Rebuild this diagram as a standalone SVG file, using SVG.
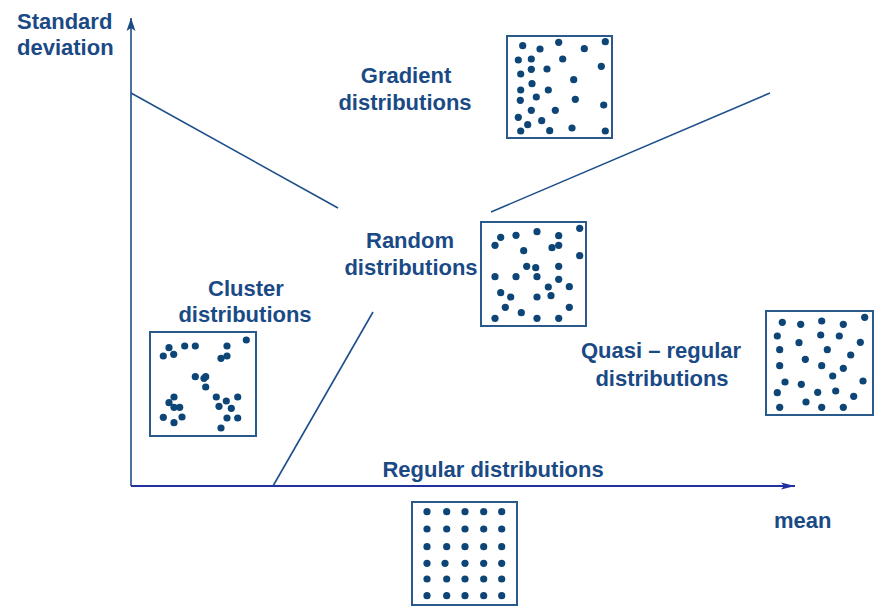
<svg xmlns="http://www.w3.org/2000/svg" width="885" height="614" viewBox="0 0 885 614">
  <defs>
    <marker id="arrowUp" markerWidth="14" markerHeight="10" refX="13" refY="5" orient="auto" markerUnits="userSpaceOnUse">
      <path d="M0,0.5 L13,5 L0,9.5 L3,5 Z" fill="#1a4a85"/>
    </marker>
    <marker id="arrowRight" markerWidth="16" markerHeight="10" refX="14" refY="5" orient="auto" markerUnits="userSpaceOnUse">
      <path d="M0,1.5 L14,5 L0,8.5 L3,5 Z" fill="#2331a0"/>
    </marker>
    <style>
      .label { font-family: "Liberation Sans", Arial, sans-serif; font-weight: bold; font-size: 22px; fill: #1a4a85; }
      .box { fill: #ffffff; stroke: #2a5a8c; stroke-width: 2; }
      .dot circle { fill: #0d4577; r: 3.6px; }
      .edge { stroke: #1d4f8a; stroke-width: 1.6; fill: none; }
    </style>
  </defs>
  <rect width="885" height="614" fill="#ffffff"/>

  <!-- axes and separating lines -->
  <g id="connectors">
    <line class="edge" x1="131" y1="486" x2="131" y2="18" stroke-width="2" marker-end="url(#arrowUp)"/>
    <line x1="131" y1="486" x2="795" y2="486" stroke="#2331a0" stroke-width="2" marker-end="url(#arrowRight)"/>
    <line class="edge" x1="131" y1="93" x2="338" y2="208"/>
    <line class="edge" x1="491" y1="212" x2="770" y2="93"/>
    <line class="edge" x1="273" y1="486" x2="373" y2="312"/>
  </g>

  <!-- axis labels -->
  <g id="axis-y-label">
    <text class="label" x="17" y="29">Standard</text>
    <text class="label" x="17" y="55">deviation</text>
  </g>
  <g id="axis-x-label">
    <text class="label" x="774" y="528">mean</text>
  </g>

  <!-- Gradient distributions -->
  <g id="gradient">
    <text class="label" x="406" y="83" text-anchor="middle">Gradient</text>
    <text class="label" x="405" y="110" text-anchor="middle">distributions</text>
    <rect class="box" x="507" y="36" width="105" height="102"/>
    <g class="dot">
      <circle cx="522.7" cy="45.7" r="3.6"/><circle cx="540" cy="49" r="3.6"/><circle cx="558.7" cy="42.3" r="3.6"/>
      <circle cx="584.3" cy="48.7" r="3.6"/><circle cx="605.3" cy="41.7" r="3.6"/><circle cx="518.3" cy="60" r="3.6"/>
      <circle cx="531.3" cy="59" r="3.6"/><circle cx="562.7" cy="59" r="3.6"/><circle cx="601.3" cy="66.3" r="3.6"/>
      <circle cx="520.7" cy="74" r="3.6"/><circle cx="531.3" cy="69.3" r="3.6"/><circle cx="547" cy="69" r="3.6"/>
      <circle cx="573.7" cy="79.7" r="3.6"/><circle cx="532" cy="83.7" r="3.6"/><circle cx="520.7" cy="90" r="3.6"/>
      <circle cx="548.3" cy="90" r="3.6"/><circle cx="520.3" cy="100.3" r="3.6"/><circle cx="536.3" cy="97" r="3.6"/>
      <circle cx="575.3" cy="99.3" r="3.6"/><circle cx="603.7" cy="105" r="3.6"/><circle cx="531.3" cy="110.3" r="3.6"/>
      <circle cx="555.3" cy="110.3" r="3.6"/><circle cx="518.3" cy="117.3" r="3.6"/><circle cx="541.7" cy="120.7" r="3.6"/>
      <circle cx="527.7" cy="124.7" r="3.6"/><circle cx="520.7" cy="131" r="3.6"/><circle cx="549.7" cy="130.7" r="3.6"/>
      <circle cx="572" cy="128" r="3.6"/><circle cx="605.3" cy="131" r="3.6"/>
    </g>
  </g>

  <!-- Random distributions -->
  <g id="random">
    <text class="label" x="410" y="248" text-anchor="middle">Random</text>
    <text class="label" x="411" y="275" text-anchor="middle">distributions</text>
    <rect class="box" x="481" y="222" width="105" height="104"/>
    <g class="dot">
      <circle cx="579.7" cy="228.3" r="3.6"/><circle cx="500.7" cy="237.3" r="3.6"/><circle cx="516" cy="235.3" r="3.6"/>
      <circle cx="537" cy="231.7" r="3.6"/><circle cx="558.7" cy="235.7" r="3.6"/><circle cx="495" cy="245.3" r="3.6"/>
      <circle cx="523.7" cy="250.7" r="3.6"/><circle cx="552" cy="247.7" r="3.6"/><circle cx="558.7" cy="245.3" r="3.6"/>
      <circle cx="579.7" cy="255.7" r="3.6"/><circle cx="526.7" cy="266.3" r="3.6"/><circle cx="535.7" cy="267.7" r="3.6"/>
      <circle cx="558.7" cy="266.3" r="3.6"/><circle cx="495" cy="276.7" r="3.6"/><circle cx="516" cy="276.7" r="3.6"/>
      <circle cx="537" cy="276.7" r="3.6"/><circle cx="558.7" cy="279.3" r="3.6"/><circle cx="548.3" cy="287" r="3.6"/>
      <circle cx="569.3" cy="286.7" r="3.6"/><circle cx="500.7" cy="292.7" r="3.6"/><circle cx="510.7" cy="297" r="3.6"/>
      <circle cx="537" cy="297" r="3.6"/><circle cx="551" cy="295.7" r="3.6"/><circle cx="505.3" cy="307.3" r="3.6"/>
      <circle cx="521.3" cy="312.7" r="3.6"/><circle cx="569.3" cy="307.3" r="3.6"/><circle cx="495" cy="318.3" r="3.6"/>
      <circle cx="537" cy="318.3" r="3.6"/><circle cx="558.7" cy="318.3" r="3.6"/>
    </g>
  </g>

  <!-- Cluster distributions -->
  <g id="cluster">
    <text class="label" x="246" y="296" text-anchor="middle">Cluster</text>
    <text class="label" x="245" y="322" text-anchor="middle">distributions</text>
    <rect class="box" x="150" y="332" width="106" height="104"/>
    <g class="dot">
      <circle cx="246.3" cy="340" r="3.6"/><circle cx="169" cy="347.7" r="3.6"/><circle cx="163.3" cy="356" r="3.6"/>
      <circle cx="173.7" cy="354.3" r="3.6"/><circle cx="184.7" cy="346" r="3.6"/><circle cx="195.3" cy="346" r="3.6"/>
      <circle cx="227" cy="346" r="3.6"/><circle cx="221" cy="358.3" r="3.6"/><circle cx="227" cy="356" r="3.6"/>
      <circle cx="195.3" cy="376.7" r="3.6"/><circle cx="204" cy="378.3" r="3.6"/><circle cx="205.7" cy="376.7" r="3.6"/>
      <circle cx="205.7" cy="387" r="3.6"/><circle cx="174" cy="397" r="3.6"/><circle cx="169" cy="402.7" r="3.6"/>
      <circle cx="174" cy="407.3" r="3.6"/><circle cx="179.7" cy="407.3" r="3.6"/><circle cx="163.3" cy="417.3" r="3.6"/>
      <circle cx="182" cy="417" r="3.6"/><circle cx="174" cy="422.7" r="3.6"/><circle cx="216.3" cy="397" r="3.6"/>
      <circle cx="226.3" cy="401" r="3.6"/><circle cx="237.7" cy="397" r="3.6"/><circle cx="219" cy="406.3" r="3.6"/>
      <circle cx="231.3" cy="408.3" r="3.6"/><circle cx="227" cy="418" r="3.6"/><circle cx="237.7" cy="418" r="3.6"/>
      <circle cx="221" cy="428" r="3.6"/>
    </g>
  </g>

  <!-- Quasi-regular distributions -->
  <g id="quasi-regular">
    <text class="label" x="661" y="358" text-anchor="middle">Quasi – regular</text>
    <text class="label" x="662" y="386" text-anchor="middle">distributions</text>
    <rect class="box" x="766" y="311" width="107" height="104"/>
    <g class="dot">
      <circle cx="782.3" cy="322.3" r="3.6"/><circle cx="800.7" cy="324.3" r="3.6"/><circle cx="821.7" cy="321" r="3.6"/>
      <circle cx="843.3" cy="324.3" r="3.6"/><circle cx="864.7" cy="317.3" r="3.6"/><circle cx="777.3" cy="336" r="3.6"/>
      <circle cx="799" cy="342.7" r="3.6"/><circle cx="820.7" cy="335" r="3.6"/><circle cx="839.3" cy="336" r="3.6"/>
      <circle cx="860.3" cy="342.3" r="3.6"/><circle cx="779.7" cy="349.7" r="3.6"/><circle cx="827.3" cy="349.7" r="3.6"/>
      <circle cx="850.7" cy="355" r="3.6"/><circle cx="805.3" cy="359.3" r="3.6"/><circle cx="779.7" cy="365.7" r="3.6"/>
      <circle cx="821.7" cy="365.7" r="3.6"/><circle cx="843.3" cy="368.3" r="3.6"/><circle cx="832.7" cy="376" r="3.6"/>
      <circle cx="785" cy="382" r="3.6"/><circle cx="801.3" cy="384.3" r="3.6"/><circle cx="863" cy="381" r="3.6"/>
      <circle cx="777.3" cy="392.7" r="3.6"/><circle cx="817.7" cy="392.3" r="3.6"/><circle cx="835.7" cy="391" r="3.6"/>
      <circle cx="853.7" cy="396.3" r="3.6"/><circle cx="806" cy="402" r="3.6"/><circle cx="779.7" cy="407.3" r="3.6"/>
      <circle cx="821.7" cy="407.3" r="3.6"/><circle cx="843.3" cy="407.3" r="3.6"/>
    </g>
  </g>

  <!-- Regular distributions -->
  <g id="regular">
    <text class="label" x="493" y="477" text-anchor="middle">Regular distributions</text>
    <rect class="box" x="412" y="502" width="105" height="103"/>
    <g class="dot">
      <circle cx="427" cy="511.7" r="3.6"/><circle cx="446.7" cy="511.7" r="3.6"/><circle cx="465" cy="511.7" r="3.6"/><circle cx="483.7" cy="511.7" r="3.6"/><circle cx="501.7" cy="511.7" r="3.6"/>
      <circle cx="427" cy="529" r="3.6"/><circle cx="446.7" cy="529" r="3.6"/><circle cx="465" cy="529" r="3.6"/><circle cx="483.7" cy="529" r="3.6"/><circle cx="501.7" cy="529" r="3.6"/>
      <circle cx="427" cy="546.7" r="3.6"/><circle cx="446.7" cy="546.7" r="3.6"/><circle cx="465" cy="546.7" r="3.6"/><circle cx="483.7" cy="546.7" r="3.6"/><circle cx="501.7" cy="546.7" r="3.6"/>
      <circle cx="427" cy="563.3" r="3.6"/><circle cx="445" cy="563.3" r="3.6"/><circle cx="465" cy="563.3" r="3.6"/><circle cx="483.7" cy="563.3" r="3.6"/><circle cx="501.7" cy="563.3" r="3.6"/>
      <circle cx="427" cy="579" r="3.6"/><circle cx="446.7" cy="579" r="3.6"/><circle cx="465" cy="579" r="3.6"/><circle cx="483.7" cy="579" r="3.6"/><circle cx="501.7" cy="579" r="3.6"/>
      <circle cx="427" cy="595.7" r="3.6"/><circle cx="446.7" cy="595.7" r="3.6"/><circle cx="465" cy="595.7" r="3.6"/><circle cx="483.7" cy="595.7" r="3.6"/><circle cx="501.7" cy="595.7" r="3.6"/>
    </g>
  </g>
</svg>
